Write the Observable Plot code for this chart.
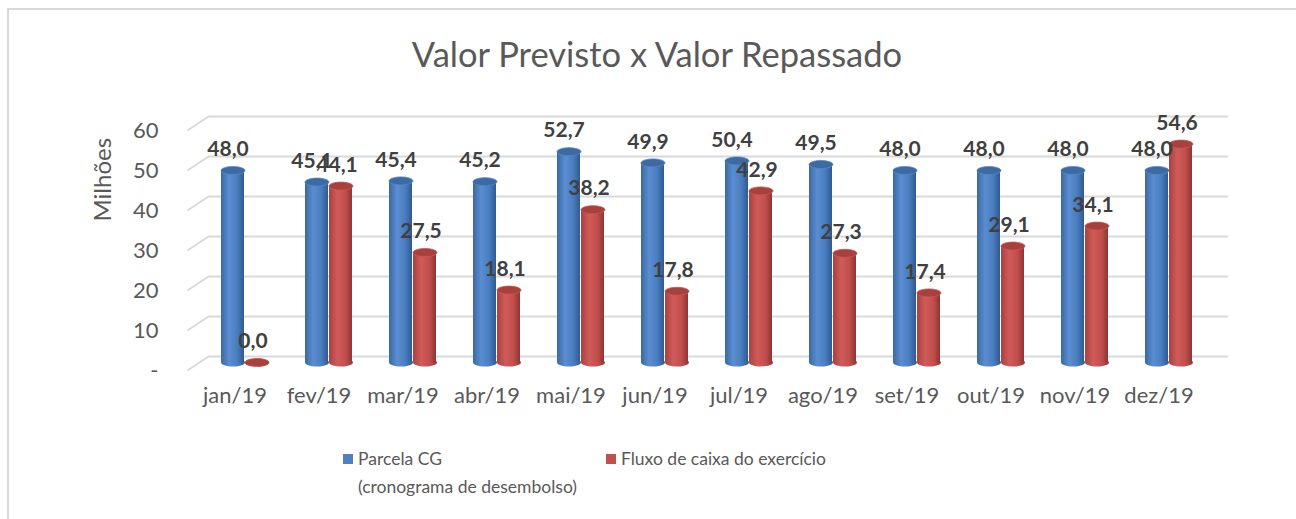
<!DOCTYPE html>
<html>
<head>
<meta charset="utf-8">
<script src="https://cdn.jsdelivr.net/npm/d3@7"></script>
<script src="https://cdn.jsdelivr.net/npm/@observablehq/plot@0.6"></script>
<style>
  body { margin: 0; background: #fff; font-family: Lato, "Open Sans", sans-serif; }
  #wrap { position: relative; width: 1296px; height: 519px; overflow: hidden; }
  #border { position: absolute; left: 7px; top: 8px; width: 1400px; height: 600px; border: 2px solid #d9d9d9; box-sizing: border-box; }
  #title { position: absolute; top: 34px; left: 0; width: 1314px; text-align: center; font-size: 34.5px; line-height: 40px; color: #595959; }
  #chart { position: absolute; left: 0; top: 100px; }
  .sw { position: absolute; width: 10px; height: 10px; }
  .lt { position: absolute; font-size: 17.5px; line-height: 28px; color: #595959; white-space: nowrap; }
</style>
</head>
<body>
<div id="wrap">
  <div id="border"></div>
  <div id="title"></div>
  <div id="chart"></div>
  <div id="legend"></div>
</div>
<script>
// ---- data ----
const months = ["jan/19", "fev/19", "mar/19", "abr/19", "mai/19", "jun/19", "jul/19", "ago/19", "set/19", "out/19", "nov/19", "dez/19"];
const parcelaCG = [48.0, 45.1, 45.4, 45.2, 52.7, 49.9, 50.4, 49.5, 48.0, 48.0, 48.0, 48.0];
const fluxoCaixa = [0.0, 44.1, 27.5, 18.1, 38.2, 17.8, 42.9, 27.3, 17.4, 29.1, 34.1, 54.6];
const yTicks = [0, 10, 20, 30, 40, 50, 60];
const seriesNames = ["Parcela CG", "(cronograma de desembolso)", "Fluxo de caixa do exercício"];
const titleText = "Valor Previsto x Valor Repassado";
const yLabel = "Milhões";

const rows = months.map((m, i) => ({ month: m, cg: parcelaCG[i], fluxo: fluxoCaixa[i] }));
const fmt = v => v.toFixed(1).replace(".", ",");

document.getElementById("title").textContent = titleText;

function ellipse(rx, ry) {
  const k = 0.5523;
  return {
    draw(ctx) {
      ctx.moveTo(-rx, 0);
      ctx.bezierCurveTo(-rx, -ry * k, -rx * k, -ry, 0, -ry);
      ctx.bezierCurveTo(rx * k, -ry, rx, -ry * k, rx, 0);
      ctx.bezierCurveTo(rx, ry * k, rx * k, ry, 0, ry);
      ctx.bezierCurveTo(-rx * k, ry, -rx, ry * k, -rx, 0);
      ctx.closePath();
    }
  };
}
const diagonal = { draw(ctx) { ctx.moveTo(0, 0); ctx.lineTo(21, -14); } };

const gridColor = "#d9d9d9";
const textColor = "#595959";

const chart = Plot.plot({
  width: 1296,
  height: 330,
  marginTop: 22,
  marginBottom: 68,
  marginLeft: 174,
  marginRight: 56,
  style: { fontFamily: "Lato, 'Open Sans', sans-serif", fontSize: "22px", color: textColor, background: "transparent", overflow: "visible" },
  x: { type: "band", domain: months, paddingInner: 0.435, paddingOuter: 0.5, axis: null },
  y: { domain: [0, 60], axis: null },
  marks: [
    // back-wall gridlines
    Plot.ruleY(yTicks, { y: d => d, dy: -6, insetLeft: 34, insetRight: 12, stroke: gridColor, strokeWidth: 2 }),
    // side diagonal gridlines
    Plot.dot(yTicks, { y: d => d, frameAnchor: "left", dx: 13, dy: 8, symbol: diagonal, fill: "none", stroke: gridColor, strokeWidth: 2 }),
    // y tick labels
    Plot.text(yTicks, { y: d => d, frameAnchor: "left", dx: -16, dy: 8, textAnchor: "end", text: d => d === 0 ? "-" : String(d), fill: textColor, fontSize: 22 }),
    // y label
    Plot.text([yLabel], { frameAnchor: "left", rotate: -90, dx: -71, dy: -21, text: d => d, fill: textColor, fontSize: 24 }),
    // x labels
    Plot.text(months, { x: d => d, frameAnchor: "bottom", dx: -10, dy: 40, text: d => d, fill: textColor, fontSize: 22 }),
    // blue cylinders
    Plot.dot(rows, { x: "month", y: () => 0, dx: -12, symbol: ellipse(12, 4), fill: "url(#gBlue)", stroke: "none" }),
    Plot.barY(rows, { x: "month", y: "cg", insetRight: 24, fill: "url(#gBlue)" }),
    Plot.dot(rows, { x: "month", y: "cg", dx: -12, symbol: ellipse(12, 4), fill: "#3c6aa3", stroke: "#5a88c4", strokeWidth: 0.8 }),
    // red cylinders
    Plot.dot(rows, { x: "month", y: () => 0, dx: 12, symbol: ellipse(12, 4), fill: "url(#gRed)", stroke: "none" }),
    Plot.barY(rows, { x: "month", y: "fluxo", insetLeft: 24, fill: "url(#gRed)" }),
    Plot.dot(rows, { x: "month", y: "fluxo", dx: 12, symbol: ellipse(12, 4), fill: "#a8403d", stroke: "#c85a57", strokeWidth: 0.8 }),
    // data labels
    Plot.text(rows, { x: "month", y: "cg", dx: -17, dy: -21, text: d => fmt(d.cg), fontWeight: "bold", fill: "#404040", fontSize: 21 }),
    Plot.text(rows, { x: "month", y: "fluxo", dx: 8, dy: -21, text: d => fmt(d.fluxo), fontWeight: "bold", fill: "#404040", fontSize: 21 })
  ]
});

// gradients for cylinder shading
const svg = d3.select(chart);
const defs = svg.insert("defs", ":first-child");
function grad(id, stops) {
  const g = defs.append("linearGradient").attr("id", id).attr("x1", "0%").attr("x2", "100%").attr("y1", "0%").attr("y2", "0%");
  stops.forEach(([o, c]) => g.append("stop").attr("offset", o).attr("stop-color", c));
}
grad("gBlue", [["0%", "#3b68a3"], ["35%", "#5a8ed0"], ["70%", "#4a7dc0"], ["100%", "#2f5a90"]]);
grad("gRed", [["0%", "#a8413f"], ["35%", "#d05b58"], ["70%", "#c24f4c"], ["100%", "#8e3533"]]);

document.getElementById("chart").appendChild(chart);

// legend below the chart
const legend = document.getElementById("legend");
const items = [
  { color: "#4f81bd", sx: 343, tx: 358, lines: [seriesNames[0], seriesNames[1]] },
  { color: "#c0504d", sx: 606, tx: 621, lines: [seriesNames[2]] }
];
items.forEach(it => {
  const sw = document.createElement("div");
  sw.className = "sw";
  sw.style.left = it.sx + "px";
  sw.style.top = "454px";
  sw.style.background = it.color;
  legend.appendChild(sw);
  it.lines.forEach((t, j) => {
    const d = document.createElement("div");
    d.className = "lt";
    d.style.left = it.tx + "px";
    d.style.top = (445 + j * 28) + "px";
    d.textContent = t;
    legend.appendChild(d);
  });
});
</script>
</body>
</html>
